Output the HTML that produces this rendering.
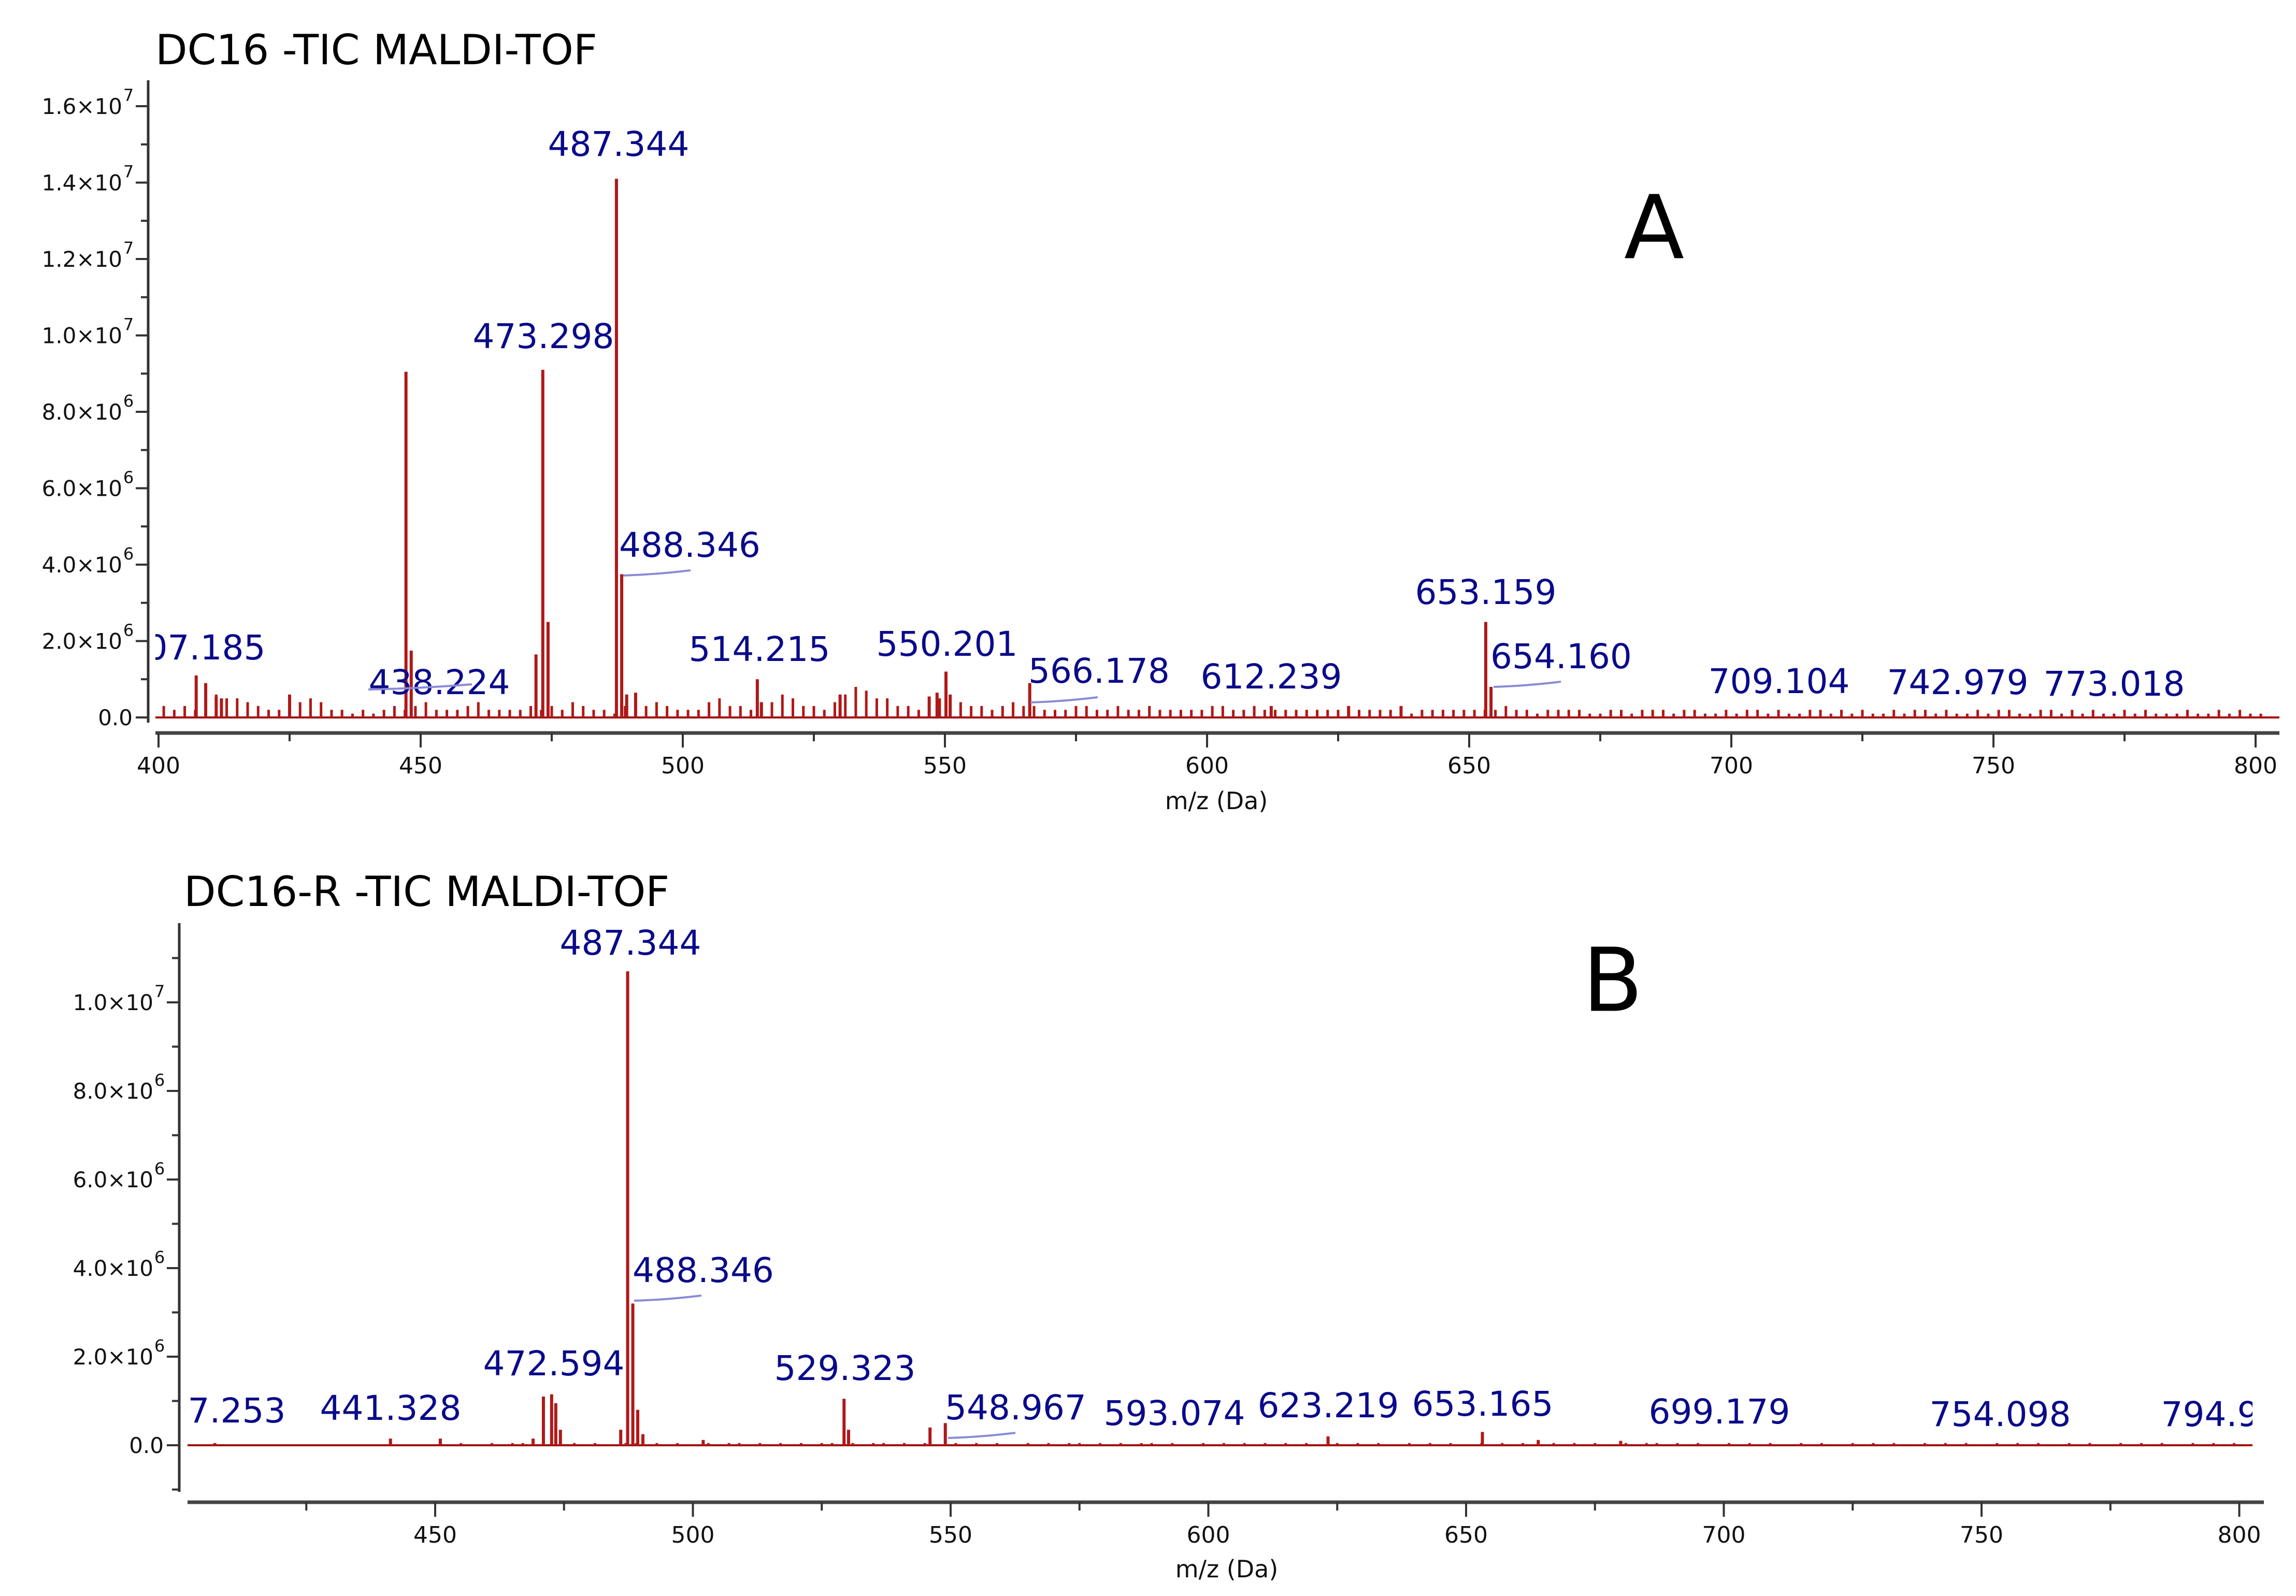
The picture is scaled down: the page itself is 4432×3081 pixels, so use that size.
<!DOCTYPE html>
<html><head><meta charset="utf-8">
<style>
html,body{margin:0;padding:0;background:#fff;}
svg{display:block;}
text{font-family:"DejaVu Sans","Liberation Sans",sans-serif;}
</style></head>
<body>
<svg id="fig" width="4432" height="3081" viewBox="0 0 4432 3081" xmlns="http://www.w3.org/2000/svg">
<defs>
<clipPath id="clipA"><rect x="300" y="150" width="4100" height="1250"/></clipPath>
<clipPath id="clipB"><rect x="358" y="1770" width="3990" height="1110"/></clipPath>
</defs>
<g id="gA"></g>
<g id="gB"></g>
</svg>
<script>
// ---- Panel A data (intensity in 1e6) ----
const peaksA_mz = [407.185,409,411,412,425,447.2,448.2,472,473.298,474.3,487.344,488.346,489.3,491,514.215,515,530,547,548.5,550.201,551,566.178,612.239,627,637,653.159,654.16];
const peaksA_val = [1.1,0.9,0.55,0.5,0.6,9.05,1.75,1.65,9.1,2.5,14.1,3.75,0.6,0.65,1.0,0.4,0.6,0.55,0.65,1.2,0.6,0.9,0.3,0.3,0.3,2.5,0.8];
const noiseA_val = [3,2,3,2,4,6,5,5,4,3,2,2,3,4,5,4,2,2,1,2,1,2,3,2,3,4,2,2,2,3,4,2,2,2,2,3,2,3,2,4,3,2,2,1,3,4,3,4,3,2,2,2,4,5,3,3,2,2,4,6,5,3,3,2,4,6,8,7,5,5,3,3,2,3,5,4,4,3,3,2,3,4,3,3,2,2,2,3,3,2,2,3,2,2,3,2,2,2,2,2,3,3,2,2,3,2,2,2,2,2,2,2,2,3,2,2,2,2,2,1,2,2,2,2,2,2,2,2,3,2,2,1,2,2,2,2,1,1,2,2,1,2,2,2,1,2,2,1,1,2,1,2,2,1,2,1,1,2,2,1,2,1,2,1,1,2,1,2,2,1,2,1,1,2,1,2,2,1,1,2,2,1,2,1,2,1,1,2,1,2,1,1,1,2,1,1,2,1,2,1,1];
const yTicksA = [0,2,4,6,8,10,12,14,16];
const yTickLabelsA = ["0.0","2.0×10|6","4.0×10|6","6.0×10|6","8.0×10|6","1.0×10|7","1.2×10|7","1.4×10|7","1.6×10|7"];
const xTicksA = [400,450,500,550,600,650,700,750,800];
// ---- Panel B data ----
const peaksB_mz = [407.253,441.328,451,469,471,472.594,473.4,474.3,486,487.344,488.346,489.3,490.3,502,529.323,530.2,546,548.967,623.219,653.165,664,680];
const peaksB_val = [0.05,0.15,0.15,0.15,1.1,1.15,0.95,0.35,0.35,10.7,3.2,0.8,0.25,0.12,1.05,0.35,0.4,0.5,0.2,0.3,0.12,0.1];
const noiseB_val = [1,0,1,0,0,1,0,1,1,0,1,0,0,1,0,1,0,0,1,1,0,1,0,1,0,0,1,0,1,1,0,1,0,1,0,1,0,1,1,0,1,0,1,1,0,1,0,1,0,1,1,0,1,0,1,0,0,1,0,1,0,1,1,0,1,0,1,0,1,1,0,1,0,0,1,0,1,0,1,0,1,0,1,0,1,0,0,1,0,1,0,1,0,0,1,0,1,0,1,0,0,1,0,1,0,1,0,0,1,0,1,0,1,0,0,1,0,1,1,0,1,0,1,0,0,1,0,1,0,1,0,0,1,0,1,0,0,1,0,1,0,1,0,0,1,0,1,0,1,0,0,1,0,1,0,1,0,0,1,0,1,0,0,1,0,1,0,1,0,0,1,0,1,0,1,0,0,1,0,1,0,1,0,0,1,0,1,0,1,0,0,1,0,1,0,1,0,0,1,0,1];
const yTicksB = [0,2,4,6,8,10];
const yTickLabelsB = ["0.0","2.0×10|6","4.0×10|6","6.0×10|6","8.0×10|6","1.0×10|7"];
const xTicksB = [450,500,550,600,650,700,750,800];

const NS="http://www.w3.org/2000/svg";
function mk(tag, attrs, parent){const e=document.createElementNS(NS,tag);for(const k in attrs)e.setAttribute(k,attrs[k]);parent.appendChild(e);return e;}

function drawPanel(g, cfg){
  const xS=m=>cfg.x0+(m-cfg.m0)*cfg.kx;
  const yS=v=>cfg.y0-v*cfg.ky;
  const t=mk('text',{x:cfg.titleX,y:cfg.titleY,'font-size':80,fill:'#000','dominant-baseline':'middle'},g);
  t.textContent=cfg.title;
  
  
  const ya=mk('line',{x1:cfg.yAxisX,y1:cfg.yTop,x2:cfg.yAxisX,y2:cfg.yBot,stroke:'#333','stroke-width':5},g);
  
  
  for(let v=cfg.yMinor0; v<=cfg.yMinor1; v+=1){
    mk('line',{x1:cfg.yAxisX-14,y1:yS(v),x2:cfg.yAxisX,y2:yS(v),stroke:'#333','stroke-width':4},g);
  }
  cfg.yTicks.forEach((v,i)=>{
    mk('line',{x1:cfg.yAxisX-24,y1:yS(v),x2:cfg.yAxisX,y2:yS(v),stroke:'#333','stroke-width':4},g);
    const parts=cfg.yLabels[i].split('|');
    const tx=mk('text',{x:cfg.yAxisX-30,y:yS(v)+15,'font-size':42,fill:'#111','text-anchor':'end'},g);
    
    
    if(parts.length>1){
      tx.setAttribute('x',cfg.yAxisX-50);
      tx.textContent=parts[0];
      const sp=mk('text',{x:cfg.yAxisX-38,y:yS(v)-10,'font-size':32,fill:'#111','text-anchor':'middle'},g);
      sp.textContent=parts[1];
    } else tx.textContent=parts[0];
  });
  const xa=mk('line',{x1:cfg.xAxisStart,y1:cfg.xAxisY,x2:cfg.xAxisEnd,y2:cfg.xAxisY,stroke:'#444','stroke-width':7},g);
  
  
  for(let m=cfg.xMinor0;m<=800;m+=25){
    const maj = m%50===0;
    mk('line',{x1:xS(m),y1:cfg.xAxisY,x2:xS(m),y2:cfg.xAxisY+(maj?28:16),stroke:'#333','stroke-width':4},g);
  }
  cfg.xTicks.forEach(m=>{
    const tx=mk('text',{x:xS(m),y:cfg.xAxisY+78,'font-size':44,fill:'#111','text-anchor':'middle'},g);
    tx.textContent=String(m);
    
    
  });
  const xt=mk('text',{x:cfg.xTitleX,y:cfg.xTitleY,'font-size':46,fill:'#111','text-anchor':'middle'},g);
  xt.textContent='m/z (Da)';
  
  
  const plot=mk('g',{'clip-path':cfg.clip},g);
  
  
  mk('line',{x1:cfg.xAxisStart,y1:yS(0),x2:cfg.xAxisEnd,y2:yS(0),stroke:'#a01010','stroke-width':4},plot);
  cfg.noise.forEach((v,i)=>{
    const m=cfg.m0+i*2+1;
    if(v>0){
      const l=mk('line',{x1:xS(m),y1:yS(0),x2:xS(m),y2:yS(v*cfg.noiseUnit),stroke:'#b01818','stroke-width':5},plot);
      
      
    }
  });
  cfg.pm.forEach((m,i)=>{
    const l=mk('line',{x1:xS(m),y1:yS(0),x2:xS(m),y2:yS(cfg.pv[i]),stroke:'#b01818','stroke-width':6},plot);
    
    
  });
  const ann=mk('g',{'clip-path':cfg.clip},g);
  cfg.labels.forEach(a=>{
    const tx=mk('text',{x:a[1],y:a[2],'font-size':66,fill:'#0a0a8a','text-anchor':a[3]||'middle','dominant-baseline':'middle'},ann);
    tx.textContent=a[0];
    
    
  });
  cfg.squiggles.forEach(s=>{
    mk('path',{d:`M${s[0]} ${s[1]+6} Q${s[0]+s[2]/2} ${s[1]+4} ${s[0]+s[2]} ${s[1]-4}`,stroke:'#8a8ad8','stroke-width':4,fill:'none'},ann);
  });
  const L=mk('text',{x:cfg.letterX,y:cfg.letterY,'font-size':170,fill:'#000','text-anchor':'middle','dominant-baseline':'middle'},g);
  L.textContent=cfg.letter;
  
  
}

drawPanel(document.getElementById('gA'),{
  title:'DC16  -TIC MALDI-TOF',titleX:300,titleY:102,
  x0:306,m0:400,kx:10.12,y0:1385,ky:73.75,
  yAxisX:286,yTop:155,yBot:1395,yMinor0:0,yMinor1:16,
  yTicks:yTicksA,yLabels:yTickLabelsA,
  xAxisStart:300,xAxisEnd:4400,xAxisY:1415,xMinor0:400,xTicks:xTicksA,
  xTitleX:2348,xTitleY:1562,
  clip:'url(#clipA)',pm:peaksA_mz,pv:peaksA_val,noise:noiseA_val,noiseUnit:0.1,
  labels:[['407.185',376,1255],['438.224',848,1322],['473.298',1049,654],['487.344',1194,283],['488.346',1195,1057,'start'],['514.215',1466,1258],['550.201',1828,1248],['566.178',1985,1300,'start'],['612.239',2454,1311],['653.159',2868,1148],['654.160',2877,1272,'start'],['709.104',3434,1320],['742.979',3779,1322],['773.018',4081,1325]],
  squiggles:[[711,1325,200],[1203,1105,130],[1989,1350,130],[2883,1320,130]],
  letter:'A',letterX:3193,letterY:452
});
drawPanel(document.getElementById('gB'),{
  title:'DC16-R -TIC MALDI-TOF',titleX:355,titleY:1727,
  x0:840,m0:450,kx:9.95,y0:2790,ky:85.5,
  yAxisX:346,yTop:1782,yBot:2880,yMinor0:-1,yMinor1:11,
  yTicks:yTicksB,yLabels:yTickLabelsB,
  xAxisStart:362,xAxisEnd:4370,xAxisY:2900,xMinor0:425,xTicks:xTicksB,
  xTitleX:2368,xTitleY:3045,
  clip:'url(#clipB)',pm:peaksB_mz,pv:peaksB_val,noise:noiseB_val,noiseUnit:0.05,
  labels:[['407.253',415,2728],['441.328',754,2723],['472.594',1069,2637],['487.344',1217,1825],['488.346',1221,2457,'start'],['529.323',1631,2646],['548.967',1824,2722,'start'],['593.074',2267,2733],['623.219',2564,2718],['653.165',2862,2715],['699.179',3319,2730],['754.098',3861,2735],['794.99',4287,2735]],
  squiggles:[[1224,2505,130],[1830,2770,130]],
  letter:'B',letterX:3113,letterY:1905
});
</script>
</body></html>
